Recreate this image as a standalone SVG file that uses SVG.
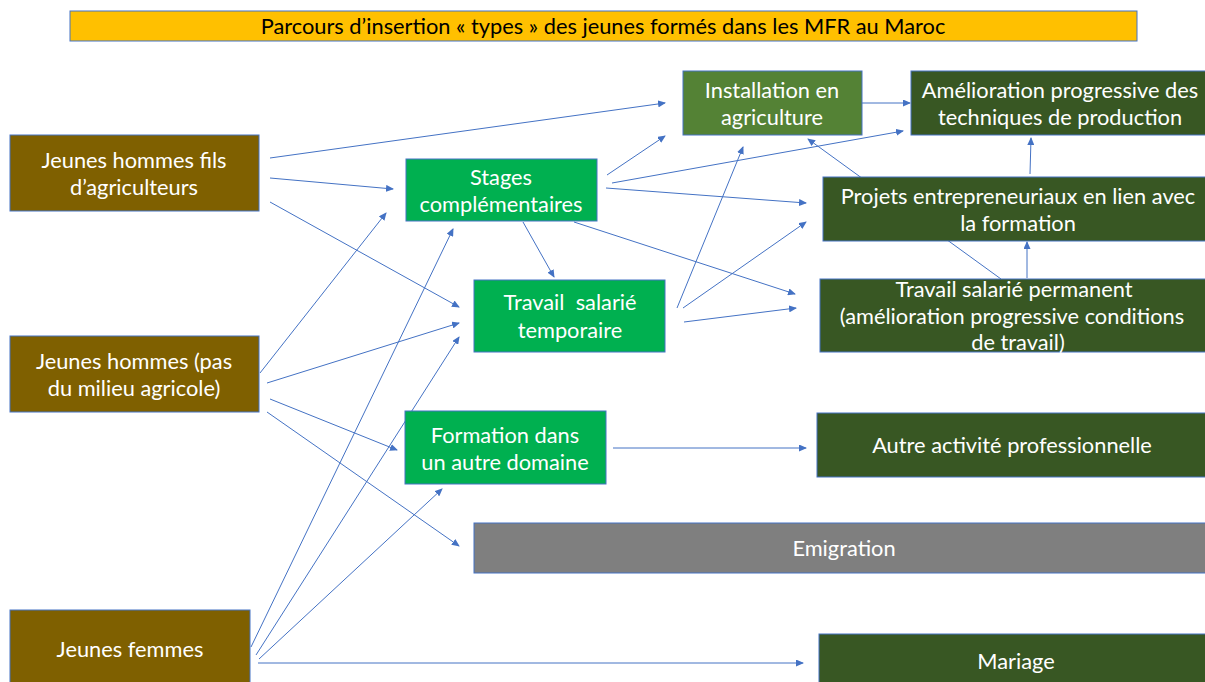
<svg xmlns="http://www.w3.org/2000/svg" width="1205" height="682" viewBox="0 0 1205 682">
<defs>
<marker id="ah" markerWidth="8" markerHeight="7" refX="7" refY="3.5" orient="auto" markerUnits="userSpaceOnUse">
<path d="M0,0 L8,3.5 L0,7 Z" fill="#4472C4"/>
</marker>
<style>
.c{stroke:#4472C4;stroke-width:1;fill:none;marker-end:url(#ah)}
.b{stroke:#4472C4;stroke-width:1}
.t{font-family:Lato,"Open Sans","Liberation Sans",sans-serif;font-size:21.8px;fill:#ffffff;text-anchor:middle}
.brown{fill:#7F6000}
.g1{fill:#00B050}
.g2{fill:#548235}
.g3{fill:#385723}
.grey{fill:#7F7F7F}
</style>
</defs>
<rect width="1205" height="682" fill="#ffffff"/>
<g id="title">
<rect x="70" y="11" width="1067" height="30" fill="#FFC000" class="b"/>
<text x="603" y="34" class="t" style="fill:#000000;font-size:21.8px">Parcours d’insertion « types » des jeunes formés dans les MFR au Maroc</text>
</g>
<g id="connectors">
<line class="c" x1="270" y1="158" x2="665" y2="103"/>
<line class="c" x1="270" y1="178" x2="393" y2="189"/>
<line class="c" x1="270" y1="202" x2="459" y2="307"/>
<line class="c" x1="260" y1="373" x2="386" y2="213"/>
<line class="c" x1="267" y1="383" x2="459" y2="323"/>
<line class="c" x1="270" y1="399" x2="397" y2="450"/>
<line class="c" x1="267" y1="412" x2="459" y2="546"/>
<line class="c" x1="251" y1="647" x2="453" y2="229"/>
<line class="c" x1="256" y1="655" x2="459" y2="337"/>
<line class="c" x1="259" y1="659" x2="442" y2="489"/>
<line class="c" x1="258" y1="663" x2="803" y2="663"/>
<line class="c" x1="607" y1="175" x2="665" y2="136"/>
<line class="c" x1="612" y1="183" x2="903" y2="131"/>
<line class="c" x1="606" y1="188" x2="806" y2="203"/>
<line class="c" x1="523" y1="222" x2="554" y2="277"/>
<line class="c" x1="574" y1="222" x2="795" y2="294"/>
<line class="c" x1="677" y1="308" x2="743" y2="147"/>
<line class="c" x1="683" y1="308" x2="806" y2="222"/>
<line class="c" x1="684" y1="322" x2="796" y2="308"/>
<line class="c" x1="862" y1="103" x2="910" y2="103"/>
<line class="c" x1="1001" y1="279" x2="808" y2="139"/>
<line class="c" x1="1030" y1="174" x2="1031" y2="138"/>
<line class="c" x1="1027" y1="278" x2="1027" y2="242"/>
<line class="c" x1="613" y1="448" x2="806" y2="448"/>
</g>
<g id="fils">
<rect x="10" y="135" width="249" height="76" class="b brown"/>
<text class="t" x="134" y="168">Jeunes hommes fils</text>
<text class="t" x="134" y="195">d’agriculteurs</text>
</g>
<g id="pas">
<rect x="10" y="336" width="249" height="76" class="b brown"/>
<text class="t" x="134" y="369">Jeunes hommes (pas</text>
<text class="t" x="134" y="396">du milieu agricole)</text>
</g>
<g id="femmes">
<rect x="10" y="610" width="240" height="80" class="b brown"/>
<text class="t" x="130" y="657">Jeunes femmes</text>
</g>
<g id="stages">
<rect x="406" y="159" width="191" height="62" class="b g1"/>
<text class="t" x="501" y="185">Stages</text>
<text class="t" x="501" y="212">complémentaires</text>
</g>
<g id="temp">
<rect x="474" y="280" width="191" height="72" class="b g1"/>
<text class="t" x="570" y="310" xml:space="preserve">Travail  salarié</text>
<text class="t" x="570" y="338">temporaire</text>
</g>
<g id="formation">
<rect x="405" y="411" width="201" height="73" class="b g1"/>
<text class="t" x="505" y="443">Formation dans</text>
<text class="t" x="505" y="470">un autre domaine</text>
</g>
<g id="installation">
<rect x="683" y="71" width="179" height="64" class="b g2"/>
<text class="t" x="772" y="98">Installation en</text>
<text class="t" x="772" y="125">agriculture</text>
</g>
<g id="amelioration">
<rect x="911" y="71" width="300" height="64" class="b g3"/>
<text class="t" x="1060" y="98">Amélioration progressive des</text>
<text class="t" x="1060" y="125">techniques de production</text>
</g>
<g id="projets">
<rect x="823" y="177" width="390" height="64" class="b g3"/>
<text class="t" x="1018" y="204">Projets entrepreneuriaux en lien avec</text>
<text class="t" x="1018" y="231">la formation</text>
</g>
<g id="permanent">
<rect x="820" y="279" width="390" height="73" class="b g3"/>
<text class="t" x="1014" y="297">Travail salarié permanent</text>
<text class="t" x="1012" y="324">(amélioration progressive conditions</text>
<text class="t" x="1018" y="350">de travail)</text>
</g>
<g id="autre">
<rect x="817" y="413" width="395" height="64" class="b g3"/>
<text class="t" x="1012" y="453">Autre activité professionnelle</text>
</g>
<g id="emigration">
<rect x="474" y="523" width="740" height="50" class="b grey"/>
<text class="t" x="844" y="556">Emigration</text>
</g>
<g id="mariage">
<rect x="819" y="634" width="395" height="60" class="b g3"/>
<text class="t" x="1016" y="669">Mariage</text>
</g>
</svg>
